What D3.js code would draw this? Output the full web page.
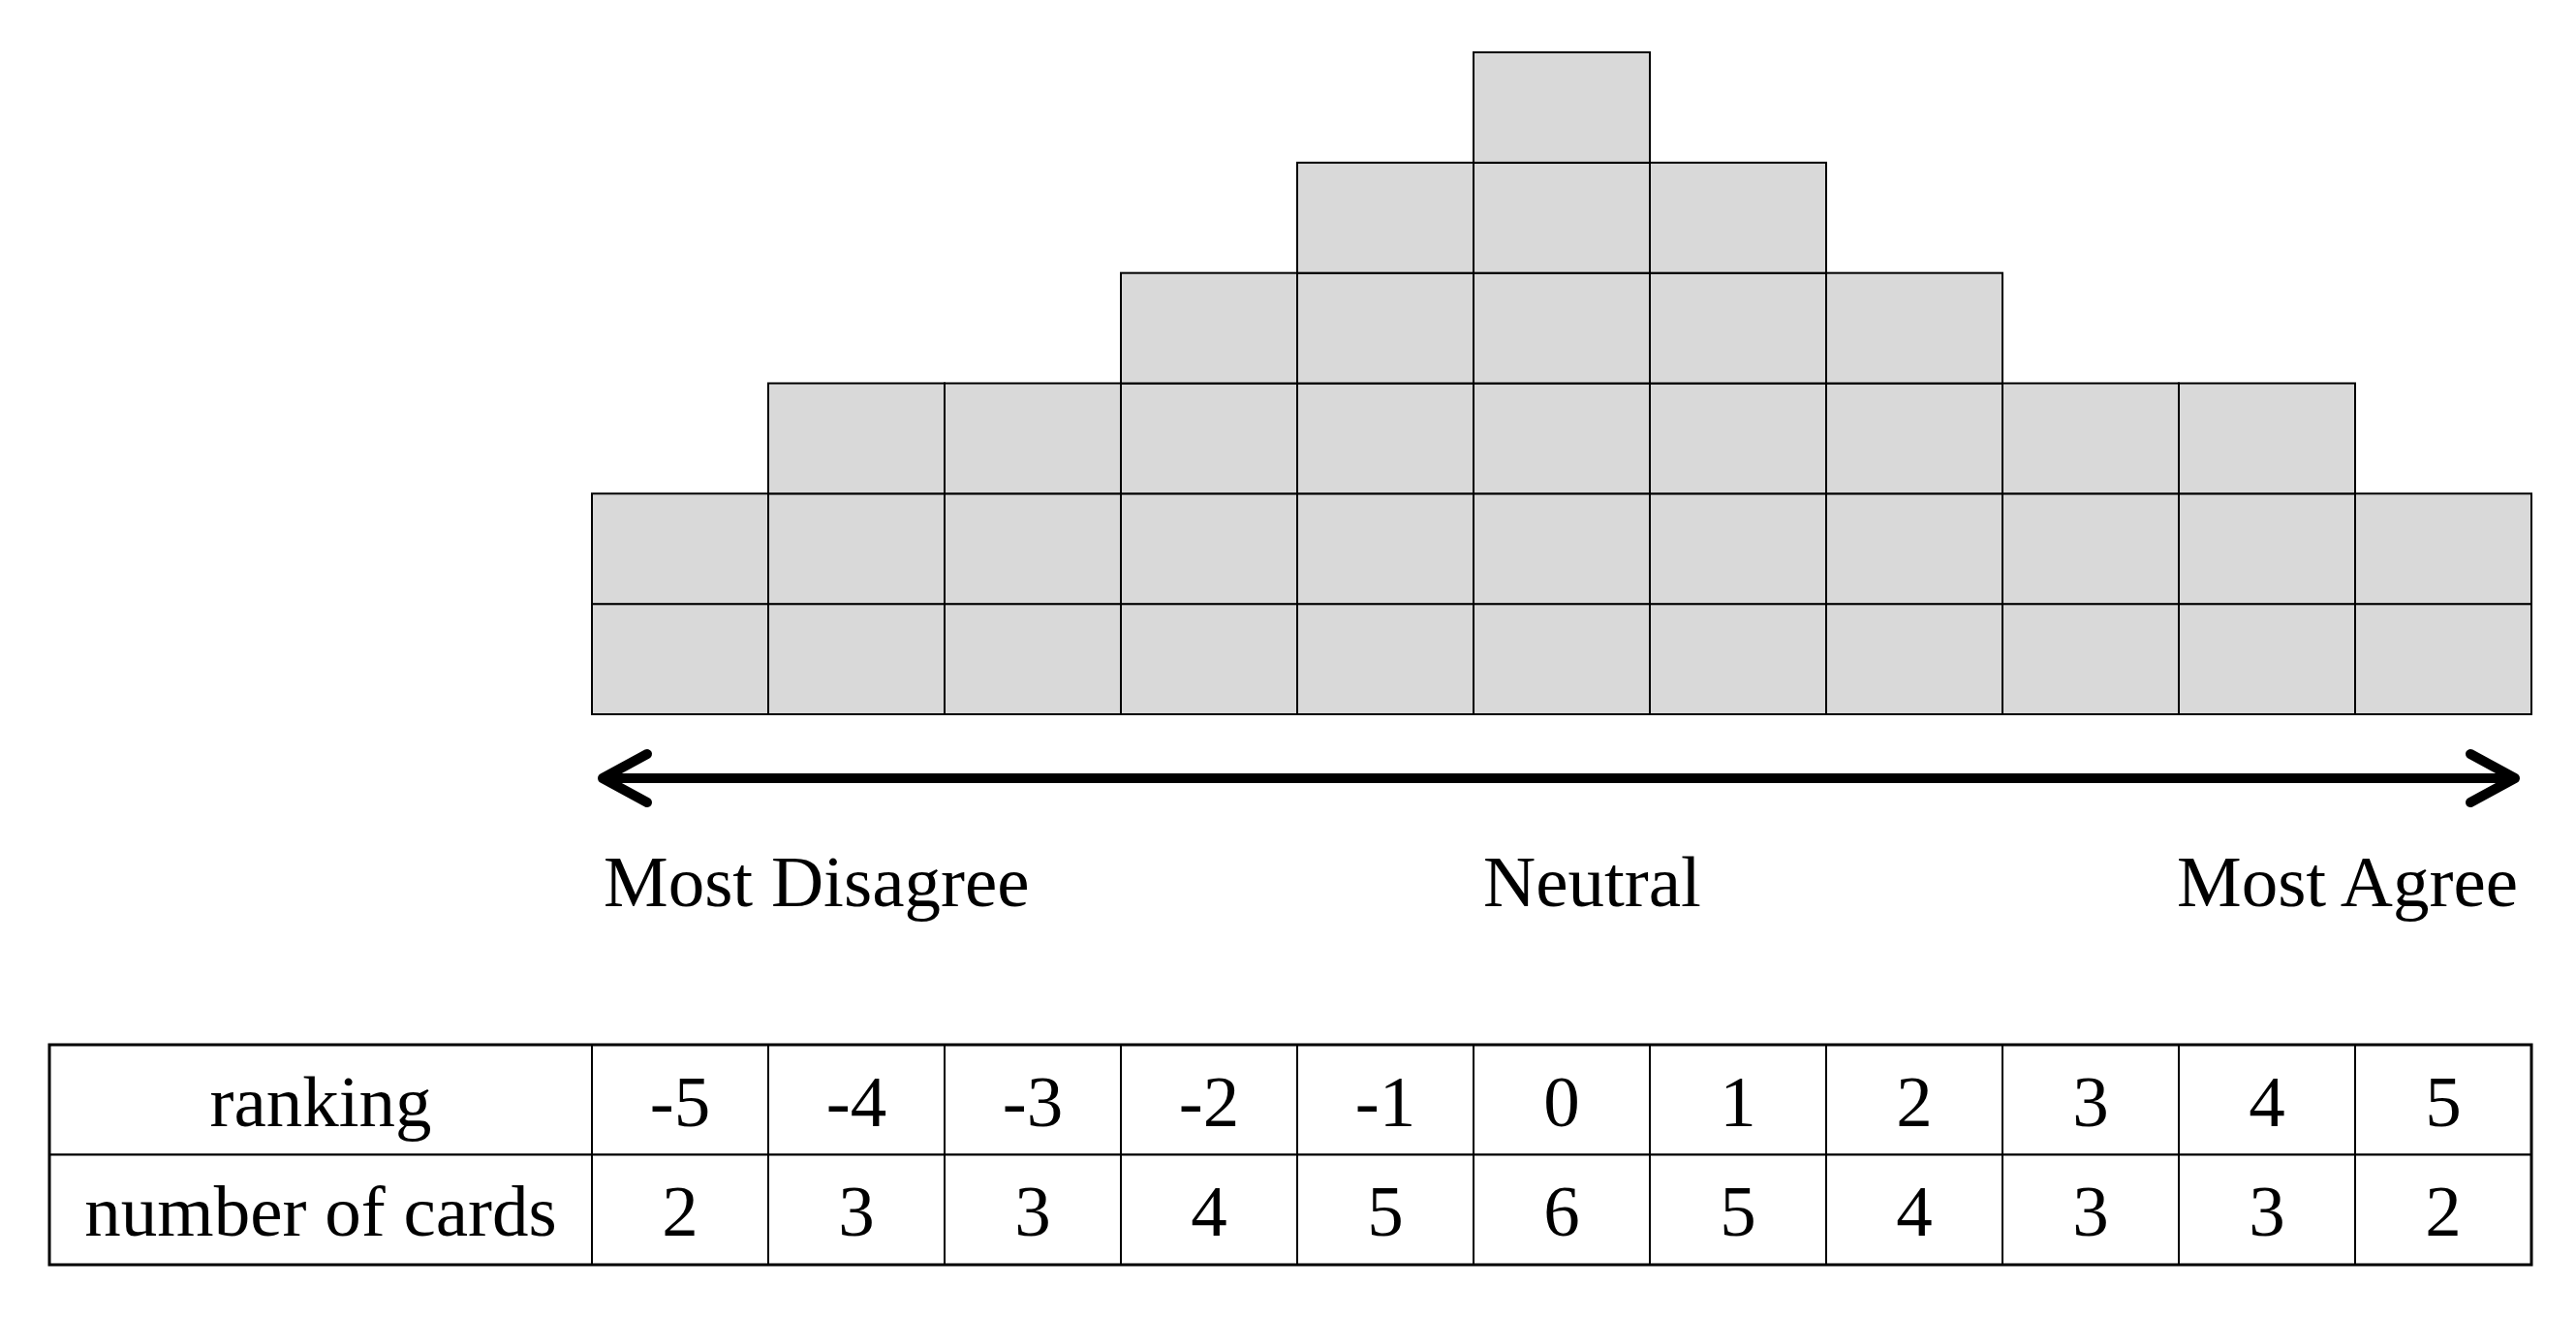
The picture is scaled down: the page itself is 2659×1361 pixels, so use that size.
<!DOCTYPE html>
<html>
<head>
<meta charset="utf-8">
<script src="https://cdn.jsdelivr.net/npm/d3@7"></script>
<style>
  html, body { margin: 0; padding: 0; background: #ffffff; }
  svg { display: block; }
  text { font-family: "Liberation Serif", "Times New Roman", serif; fill: #000; }
</style>
</head>
<body>
<svg id="chart" width="2659" height="1361"></svg>
<script>
// ---- data ----
const rankings = [-5, -4, -3, -2, -1, 0, 1, 2, 3, 4, 5];
const cardCounts = [2, 3, 3, 4, 5, 6, 5, 4, 3, 3, 2];
const rowLabels = ["ranking", "number of cards"];
const scaleLabels = ["Most Disagree", "Neutral", "Most Agree"];

// ---- layout ----
const W = 2659, H = 1361;
const gridLeft = 611, gridRight = 2613;
const gridBottom = 737, gridTop = 54;
const maxCards = d3.max(cardCounts);

const svg = d3.select("#chart");

const x = d3.scaleBand().domain(rankings).range([gridLeft, gridRight]).padding(0);
const y = d3.scaleLinear().domain([0, maxCards]).range([gridBottom, gridTop]);

// ---- card grid ----
const cells = [];
rankings.forEach((r, i) => {
  for (let k = 0; k < cardCounts[i]; k++) cells.push({ r, k });
});

svg.append("g").selectAll("rect")
  .data(cells)
  .join("rect")
  .attr("x", d => x(d.r))
  .attr("y", d => y(d.k + 1))
  .attr("width", x.bandwidth())
  .attr("height", y(0) - y(1))
  .attr("fill", "#d9d9d9")
  .attr("stroke", "#000")
  .attr("stroke-width", 2);

// ---- double arrow ----
const arrowY = 803;
const xL = 618, xR = 2600;
const ag = svg.append("g")
  .attr("fill", "none")
  .attr("stroke", "#000")
  .attr("stroke-width", 10)
  .attr("stroke-linecap", "round")
  .attr("stroke-linejoin", "round");
ag.append("line").attr("x1", xL + 8).attr("x2", xR - 8).attr("y1", arrowY).attr("y2", arrowY).attr("stroke-linecap", "butt");
ag.append("path").attr("d", d3.line()([[xL + 50, arrowY - 25], [xL + 4, arrowY], [xL + 50, arrowY + 25]]));
ag.append("path").attr("d", d3.line()([[xR - 50, arrowY - 25], [xR - 4, arrowY], [xR - 50, arrowY + 25]]));

// ---- scale labels ----
const labelY = 935;
svg.append("text").attr("x", 623).attr("y", labelY).attr("font-size", 75)
  .attr("text-anchor", "start").text(scaleLabels[0]);
svg.append("text").attr("x", 1531).attr("y", labelY).attr("font-size", 75)
  .attr("text-anchor", "start").text(scaleLabels[1]);
svg.append("text").attr("x", 2599).attr("y", labelY).attr("font-size", 75)
  .attr("text-anchor", "end").text(scaleLabels[2]);

// ---- table ----
const tLeft = 51, tTop = 1078, tBottom = 1305;
const rowY = d3.scaleBand().domain(d3.range(rowLabels.length)).range([tTop, tBottom]).padding(0);
const table = svg.append("g");

// label cells
rowLabels.forEach((lab, ri) => {
  table.append("rect")
    .attr("x", tLeft).attr("y", rowY(ri))
    .attr("width", gridLeft - tLeft).attr("height", rowY.bandwidth())
    .attr("fill", "#fff").attr("stroke", "#000").attr("stroke-width", 2);
  table.append("text")
    .attr("x", (tLeft + gridLeft) / 2)
    .attr("y", rowY(ri) + rowY.bandwidth() / 2 + 27)
    .attr("text-anchor", "middle").attr("font-size", 75).text(lab);
});

const rowsData = [rankings.map(String), cardCounts.map(String)];
rowsData.forEach((vals, ri) => {
  table.append("g").selectAll("rect")
    .data(rankings)
    .join("rect")
    .attr("x", d => x(d)).attr("y", rowY(ri))
    .attr("width", x.bandwidth()).attr("height", rowY.bandwidth())
    .attr("fill", "#fff").attr("stroke", "#000").attr("stroke-width", 2);
  table.append("g").selectAll("text")
    .data(rankings)
    .join("text")
    .attr("x", d => x(d) + x.bandwidth() / 2)
    .attr("y", rowY(ri) + rowY.bandwidth() / 2 + 27)
    .attr("text-anchor", "middle").attr("font-size", 75)
    .text((d, i) => vals[i]);
});

// outer border slightly heavier
table.append("rect")
  .attr("x", tLeft).attr("y", tTop)
  .attr("width", gridRight - tLeft).attr("height", tBottom - tTop)
  .attr("fill", "none").attr("stroke", "#000").attr("stroke-width", 3);
</script>
</body>
</html>
